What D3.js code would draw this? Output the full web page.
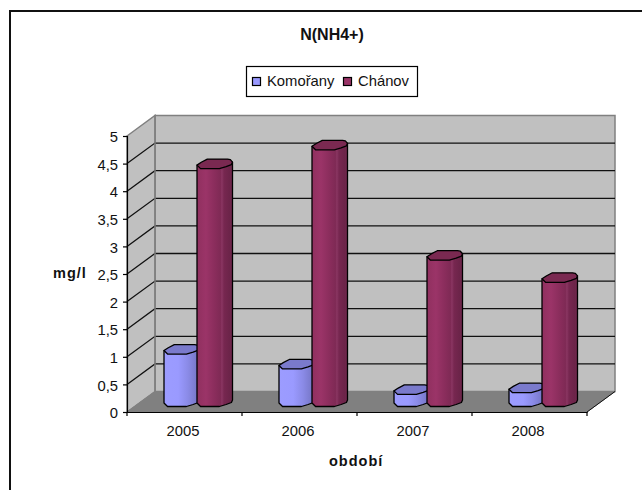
<!DOCTYPE html>
<html>
<head>
<meta charset="utf-8">
<script src="https://cdn.jsdelivr.net/npm/d3@7/dist/d3.min.js"></script>
<style>
html, body { margin: 0; padding: 0; background: #fff; }
svg { display: block; }
text { font-family: "Liberation Sans", Arial, sans-serif; fill: #111; }
</style>
</head>
<body>
<svg id="chart" width="642" height="490"></svg>
<script>
const years = ["2005", "2006", "2007", "2008"];
const komorany = [0.95, 0.68, 0.22, 0.25];
const chanov = [4.31, 4.65, 2.65, 2.25];
const seriesNames = ["Komořany", "Chánov"];
const yTicks = [0, 0.5, 1, 1.5, 2, 2.5, 3, 3.5, 4, 4.5, 5];

const svg = d3.select("#chart");

// Pseudo-3D box: front plane plus a constant depth offset to the back wall
const depth = { dx: 28, dy: -20.5 };
const x = d3.scaleBand().domain(years).range([127, 587]);
const y = d3.scaleLinear().domain([0, 5]).range([412, 136]);
const fmt = v => String(v).replace(".", ",");

const defs = svg.append("defs");
function cylinderGradient(id, stops) {
  const g = defs.append("linearGradient").attr("id", id);
  stops.forEach(([o, c]) => g.append("stop").attr("offset", o).attr("stop-color", c));
}
cylinderGradient("gradK", [[0, "#9c9cff"], [0.4, "#9a9aff"], [0.68, "#8a8ae6"], [1, "#7272c0"]]);
cylinderGradient("gradC", [[0, "#90305f"], [0.25, "#9b3468"], [0.5, "#8a2d5c"], [0.66, "#7f2a55"], [0.7, "#8a3662"], [0.76, "#772750"], [0.92, "#6c2449"], [1, "#732a4f"]]);

// Chart frame: only the top and left rules are drawn
svg.append("path").attr("d", "M10,490V11H642").attr("fill", "none")
  .attr("stroke", "#111").attr("stroke-width", 2);

// Walls and floor
const x0 = x.range()[0], x1 = x.range()[1];
const poly = pts => pts.map(p => p.join(",")).join(" ");
svg.append("polygon")
  .attr("points", poly([[x0 + depth.dx, y(5) + depth.dy], [x1 + depth.dx, y(5) + depth.dy], [x1 + depth.dx, y(0) + depth.dy], [x0 + depth.dx, y(0) + depth.dy]]))
  .attr("fill", "#c0c0c0").attr("stroke", "#808080").attr("stroke-width", 1.5);
svg.append("polygon")
  .attr("points", poly([[x0, y(5)], [x0 + depth.dx, y(5) + depth.dy], [x0 + depth.dx, y(0) + depth.dy], [x0, y(0)]]))
  .attr("fill", "#c0c0c0").attr("stroke", "#808080").attr("stroke-width", 1.5);
svg.append("polygon")
  .attr("points", poly([[x0, y(0)], [x0 + depth.dx, y(0) + depth.dy], [x1 + depth.dx, y(0) + depth.dy], [x1, y(0)]]))
  .attr("fill", "#808080").attr("stroke", "#808080");

// Gridlines run along the side wall and across the back wall
yTicks.filter(v => v > 0 && v < 5).forEach(v => {
  svg.append("polyline")
    .attr("points", poly([[x0, y(v)], [x0 + depth.dx, y(v) + depth.dy], [x1 + depth.dx, y(v) + depth.dy]]))
    .attr("fill", "none").attr("stroke", "#111").attr("stroke-width", 1.3);
});
svg.append("line").attr("x1", x0 + depth.dx).attr("x2", x0 + depth.dx)
  .attr("y1", y(5) + depth.dy).attr("y2", y(0) + depth.dy)
  .attr("stroke", "#808080").attr("stroke-width", 1.5);

// Axes on the front plane
const yAxis = d3.axisLeft(y).tickValues(yTicks).tickFormat(fmt).tickSize(4).tickPadding(5);
const gy = svg.append("g").attr("transform", `translate(${x0},0)`).call(yAxis);
const xAxis = d3.axisBottom(x).tickSize(0).tickPadding(13.5);
const gx = svg.append("g").attr("transform", `translate(0,${y(0)})`).call(xAxis);
[gy, gx].forEach(g => {
  g.attr("font-family", null).attr("font-size", null);
  g.selectAll("text").style("font-size", "14.8px");
  g.selectAll("line,path").attr("stroke", "#000").attr("stroke-width", 1.2);
});
gy.selectAll("text").attr("dy", "0.38em");
gx.selectAll("text").attr("dx", "-1.5");
svg.append("g").selectAll("line").data(years.map(d => x(d)).concat(x1)).join("line")
  .attr("x1", d => d).attr("x2", d => d).attr("y1", y(0)).attr("y2", y(0) + 4)
  .attr("stroke", "#000").attr("stroke-width", 1.2);

// Side edge of the floor at the right
svg.append("line").attr("x1", x1).attr("y1", y(0)).attr("x2", x1 + depth.dx).attr("y2", y(0) + depth.dy)
  .attr("stroke", "#111").attr("stroke-width", 1);

// Faceted cap outline, as fractions of bar width and fixed vertical offsets
const lowerEdge = [[0, 6], [0.1, 9.5], [0.63, 9.5], [0.82, 7.5], [0.97, 5.5], [1, 3]];
const upperEdge = [[0.94, 0.5], [0.86, 0], [0.29, 0], [0.12, 3.2]];
const cap = [...lowerEdge, ...upperEdge];
const barW = 35.5, baseY = 397;
const hPerUnit = y(0) - y(1);

function drawBar(group, left, value, grad, capFill) {
  const top = baseY - value * hPerUnit;
  const bottom = lowerEdge.slice().reverse().map(([f, o]) => [left + f * barW, baseY + o]);
  group.append("polygon").attr("points", poly([[left, top + 6], [left + barW, top + 3], ...bottom]))
    .attr("fill", `url(#${grad})`).attr("stroke", "#000").attr("stroke-width", 1.3).attr("stroke-linejoin", "round");
  group.append("polygon").attr("points", poly(cap.map(([f, o]) => [left + f * barW, top + o])))
    .attr("fill", capFill).attr("stroke", "#000").attr("stroke-width", 1.3).attr("stroke-linejoin", "round");
}

const bars = svg.append("g");
years.forEach((yr, i) => {
  const left = x(yr) + 37;
  drawBar(bars, left, komorany[i], "gradK", "#7a7acc");
  drawBar(bars, left + 33, chanov[i], "gradC", "#7a2951");
});

// Title and axis names
svg.append("text").attr("x", 332).attr("y", 40).attr("text-anchor", "middle")
  .style("font-size", "16px").style("font-weight", "bold").text("N(NH4+)");
svg.append("text").attr("x", 53).attr("y", 278)
  .style("font-size", "14.5px").style("font-weight", "bold").style("letter-spacing", "1px").text("mg/l");
svg.append("text").attr("x", 329).attr("y", 466)
  .style("font-size", "14.5px").style("font-weight", "bold").style("letter-spacing", "1px").text("období");

// Legend
const legend = svg.append("g");
legend.append("rect").attr("x", 246.5).attr("y", 66.5).attr("width", 171).attr("height", 30)
  .attr("fill", "#fff").attr("stroke", "#000").attr("stroke-width", 1.2);
[[252.5, 267, "#9999ff"], [343.5, 358, "#993366"]].forEach(([sx, tx, c], i) => {
  legend.append("rect").attr("x", sx).attr("y", 77.5).attr("width", 8).attr("height", 8)
    .attr("fill", c).attr("stroke", "#000").attr("stroke-width", 1.2);
  legend.append("text").attr("x", tx).attr("y", 86).style("font-size", "14.8px").text(seriesNames[i]);
});
</script>
</body>
</html>
